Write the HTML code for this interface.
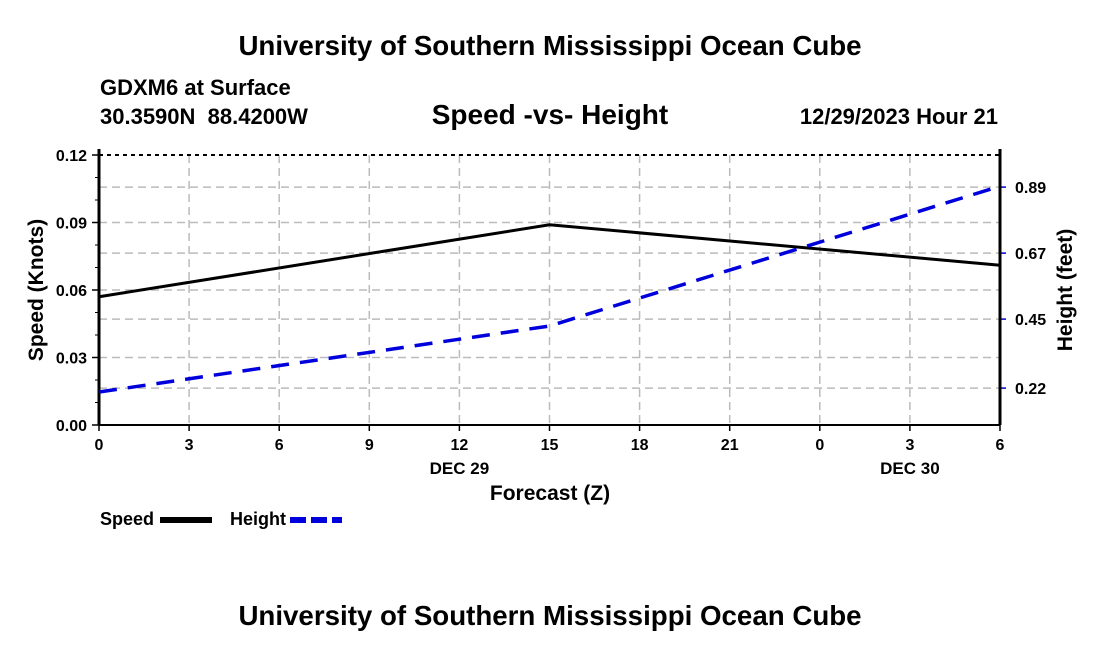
<!DOCTYPE html>
<html><head><meta charset="utf-8"><style>
body{margin:0;background:#fff;}
svg{display:block;font-family:"Liberation Sans",Arial,sans-serif;}
</style></head><body>
<svg id="c" width="1100" height="650" xmlns="http://www.w3.org/2000/svg">
<text x="550" y="55" text-anchor="middle" font-size="27.7" font-weight="bold">University of Southern Mississippi Ocean Cube</text>
<text x="100" y="95" font-size="22" font-weight="bold">GDXM6 at Surface</text>
<text x="100" y="124" font-size="22" font-weight="bold" style="white-space:pre">30.3590N  88.4200W</text>
<text x="550" y="124" text-anchor="middle" font-size="28" font-weight="bold">Speed -vs- Height</text>
<text x="998" y="124" text-anchor="end" font-size="22" font-weight="bold">12/29/2023 Hour 21</text>
<g id="grid"></g>
<g id="axes"></g>
<g id="series"></g>
<text transform="translate(43,290) rotate(-90)" text-anchor="middle" font-size="21" font-weight="bold">Speed (Knots)</text>
<text transform="translate(1072,290) rotate(-90)" text-anchor="middle" font-size="21" font-weight="bold">Height (feet)</text>
<text x="550" y="500" text-anchor="middle" font-size="21" font-weight="bold">Forecast (Z)</text>
<g>
<text x="100" y="525" font-size="18" font-weight="bold">Speed</text>
<line x1="160" y1="520" x2="212" y2="520" stroke="#000" stroke-width="6"/>
<text x="230" y="525" font-size="18" font-weight="bold">Height</text>
<line x1="290" y1="520" x2="342" y2="520" stroke="#0000dd" stroke-width="6" stroke-dasharray="16,5"/>
</g>
<text x="550" y="625" text-anchor="middle" font-size="27.7" font-weight="bold">University of Southern Mississippi Ocean Cube</text>
</svg>
<script>
const hours=[0,15,30];
const speedVals=[0.057,0.089,0.071];
const heightVals=[0.207,0.427,0.893];
const xTickLabels=["0","3","6","9","12","15","18","21","0","3","6"];
const leftTicks=[0,0.03,0.06,0.09,0.12];
const rightTicks=[0.22,0.45,0.67,0.89];
const dayLabels=[["DEC 29",12],["DEC 30",27]];
const X0=99,X1=1000,Y0=425,Y1=155,HMAX=30,L0=0,L1=0.12,R0=0.097,R1=0.997;
const NS="http://www.w3.org/2000/svg";
const xs=h=>X0+(X1-X0)*h/HMAX;
const yl=v=>Y0-(Y0-Y1)*(v-L0)/(L1-L0);
const yr=v=>Y0-(Y0-Y1)*(v-R0)/(R1-R0);
function mk(p,tag,a){const e=document.createElementNS(NS,tag);for(const k in a)e.setAttribute(k,a[k]);p.appendChild(e);return e;}
const gG=document.getElementById('grid'),gA=document.getElementById('axes'),gS=document.getElementById('series');
xTickLabels.forEach((t,i)=>{const x=xs(i*3);
 if(i>0&&i<xTickLabels.length-1){const l=mk(gG,'line',{x1:x,x2:x,y1:Y1,y2:Y0,stroke:'#bbb','stroke-width':1.5,'stroke-dasharray':'8,5'});
 
 }
 const tk=mk(gA,'line',{x1:x,x2:x,y1:Y0,y2:Y0+6,stroke:'#000','stroke-width':1.5});
 
 
 const tx=mk(gA,'text',{x:x,y:Y0+25,'text-anchor':'middle','font-size':16,'font-weight':'bold'});tx.textContent=t;
 
 });
dayLabels.forEach(d=>{const t=mk(gA,'text',{x:xs(d[1]),y:Y0+49,'text-anchor':'middle','font-size':17,'font-weight':'bold'});t.textContent=d[0];
 
 });
leftTicks.forEach(v=>{const y=yl(v);
 if(v>L0&&v<L1){const l=mk(gG,'line',{x1:X0,x2:X1,y1:y,y2:y,stroke:'#bbb','stroke-width':1.5,'stroke-dasharray':'8,5'});
 
 }
 const tk=mk(gA,'line',{x1:X0-7,x2:X0,y1:y,y2:y,stroke:'#000','stroke-width':1.5});
 
 
 const t=mk(gA,'text',{x:X0-12,y:y+6,'text-anchor':'end','font-size':16,'font-weight':'bold'});t.textContent=v.toFixed(2);
 
 });
for(let k=1;k<12;k++){const v=k*0.01;const tk=mk(gA,'line',{x1:X0-4,x2:X0,y1:yl(v),y2:yl(v),stroke:'#000','stroke-width':1});
 
 }
rightTicks.forEach(v=>{const y=yr(v);
 const l=mk(gG,'line',{x1:X0,x2:X1,y1:y,y2:y,stroke:'#bbb','stroke-width':1.5,'stroke-dasharray':'8,5'});
 
 
 const tk=mk(gA,'line',{x1:X1,x2:X1+6,y1:y,y2:y,stroke:'#00c','stroke-width':1.5});
 
 
 const t=mk(gA,'text',{x:X1+15,y:y+6,'font-size':16,'font-weight':'bold'});t.textContent=v.toFixed(2);
 
 });
const topBorder=mk(gA,'line',{x1:X0,x2:X1,y1:Y1,y2:Y1,stroke:'#000','stroke-width':2,'stroke-dasharray':'4,4'});


const bt=mk(gA,'line',{x1:X0,x2:X1,y1:Y0,y2:Y0,stroke:'#000','stroke-width':2});


const la=mk(gA,'line',{x1:X0,x2:X0,y1:Y1-6,y2:Y0,stroke:'#000','stroke-width':3});


const ra=mk(gA,'line',{x1:X1,x2:X1,y1:Y1-6,y2:Y0,stroke:'#000','stroke-width':3});


const sp=mk(gS,'polyline',{points:hours.map((h,i)=>xs(h)+','+yl(speedVals[i])).join(' '),fill:'none',stroke:'#000','stroke-width':3});


const hl=mk(gS,'polyline',{points:hours.map((h,i)=>xs(h)+','+yr(heightVals[i])).join(' '),fill:'none',stroke:'#0000dd','stroke-width':3.5,'stroke-dasharray':'18,11'});


</script>
</body></html>
